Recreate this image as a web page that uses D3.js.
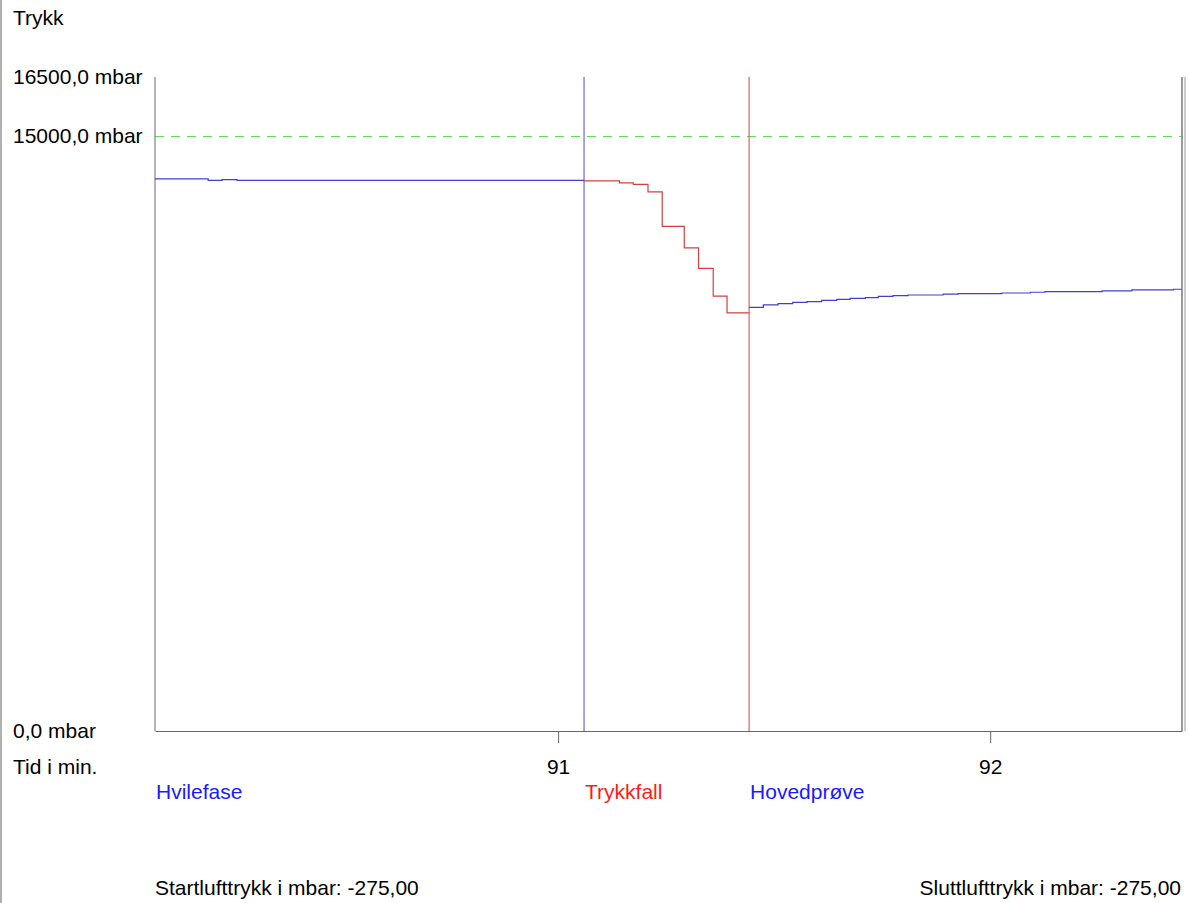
<!DOCTYPE html>
<html>
<head>
<meta charset="utf-8">
<script src="https://cdn.jsdelivr.net/npm/d3@7/dist/d3.min.js"></script>
<style>
  html, body { margin: 0; padding: 0; background: #fff; }
  svg { display: block; }
  text { font-family: "Liberation Sans", Arial, sans-serif; font-size: 21px; }
</style>
</head>
<body>
<svg id="chart" width="1189" height="903"></svg>
<script>
// ---- Data ----
const yTickValues = [0, 15000, 16500];
const xTickValues = [91, 92];
const limitValue = 15000;

const hvileT = [90.067, 90.190, 90.222, 90.257, 91.060];
const hvileP = [13930, 13890, 13910, 13890, 13890];

const trykkfallT = [91.060, 91.142, 91.174, 91.208, 91.241, 91.292, 91.325, 91.359, 91.391, 91.442];
const trykkfallP = [13880, 13830, 13790, 13600, 12730, 12190, 11670, 10970, 10550, 10550];

const hovedT = [91.442, 91.475, 91.509, 91.543, 91.576, 91.610, 91.645, 91.676, 91.711, 91.741, 91.775, 91.810, 91.891, 91.926, 92.027, 92.093, 92.127, 92.259, 92.328, 92.424, 92.444];
const hovedP = [10690, 10750, 10780, 10815, 10835, 10865, 10890, 10915, 10935, 10965, 10985, 11000, 11020, 11035, 11050, 11070, 11085, 11105, 11130, 11145, 11145];

const phaseNames = ["Hvilefase", "Trykkfall", "Hovedprøve"];
const phaseStarts = [90.067, 91.060, 91.442];
const phaseColors = ["#1a1aff", "#ff1a1a", "#1a1aff"];
const markerColors = [null, "#4a4ad0", "#c84848"];

const xDomain = [90.067, 92.444];
const yDomain = [0, 16500];

// ---- Layout ----
const L = 155, R = 1182, T = 77, B = 731;
const svg = d3.select("#chart");

const x = d3.scaleLinear().domain(xDomain).range([L, R]);
const y = d3.scaleLinear().domain(yDomain).range([B, T]);

// page left border
svg.append("line").attr("x1", 1).attr("x2", 1).attr("y1", 0).attr("y2", 903)
  .attr("stroke", "#b0b0b0").attr("stroke-width", 2);

// Title
svg.append("text").attr("x", 13).attr("y", 25).text("Trykk");

// Y labels
const fmtY = v => d3.format(".1f")(v).replace(".", ",") + " mbar";
svg.selectAll(".ylab").data(yTickValues).enter().append("text")
  .attr("x", 13).attr("y", d => y(d) + 7).text(fmtY);

// Limit dashed line
svg.append("line").attr("x1", L).attr("x2", R).attr("y1", y(limitValue)).attr("y2", y(limitValue))
  .attr("stroke", "#5fd85f").attr("stroke-width", 1).attr("stroke-dasharray", "9,7");

// Phase marker lines
phaseStarts.forEach((t, i) => {
  if (!markerColors[i]) return;
  svg.append("line").attr("x1", x(t)).attr("x2", x(t)).attr("y1", T).attr("y2", B)
    .attr("stroke", markerColors[i]).attr("stroke-width", 1);
});

// Series
const line = d3.line().x(d => x(d[0])).y(d => y(d[1])).curve(d3.curveStepAfter);
const series = [
  { t: hvileT, p: hvileP, color: "#4040c8" },
  { t: trykkfallT, p: trykkfallP, color: "#d44040" },
  { t: hovedT, p: hovedP, color: "#4040c8" }
];
series.forEach(s => {
  svg.append("path").datum(s.t.map((t, i) => [t, s.p[i]]))
    .attr("d", line).attr("fill", "none").attr("stroke", s.color).attr("stroke-width", 1.2);
});

// Axes
svg.append("line").attr("x1", L).attr("x2", L).attr("y1", T).attr("y2", B)
  .attr("stroke", "#666").attr("stroke-width", 1);
svg.append("line").attr("x1", R).attr("x2", R).attr("y1", T).attr("y2", B)
  .attr("stroke", "#777").attr("stroke-width", 1.5);
svg.append("line").attr("x1", R + 3).attr("x2", R + 3).attr("y1", T).attr("y2", B)
  .attr("stroke", "#bbb").attr("stroke-width", 1.5);

const xAxis = d3.axisBottom(x).tickValues(xTickValues).tickSize(12).tickSizeOuter(0).tickPadding(16)
  .tickFormat(d3.format("d"));
const gx = svg.append("g").attr("transform", `translate(0,${B})`).call(xAxis);
gx.select(".domain").attr("stroke", "#666");
gx.selectAll(".tick line").attr("stroke", "#666");
gx.selectAll(".tick text").style("font-family", "Liberation Sans, Arial, sans-serif")
  .style("font-size", "21px").attr("fill", "#000");

svg.append("text").attr("x", 13).attr("y", 774).text("Tid i min.");

// Phase labels
phaseNames.forEach((n, i) => {
  svg.append("text").attr("x", x(phaseStarts[i]) + 1).attr("y", 799).attr("fill", phaseColors[i]).text(n);
});

// Footer
svg.append("text").attr("x", 155).attr("y", 895).text("Startlufttrykk i mbar: -275,00");
svg.append("text").attr("x", 1181).attr("y", 895).attr("text-anchor", "end").text("Sluttlufttrykk i mbar: -275,00");
</script>
</body>
</html>
